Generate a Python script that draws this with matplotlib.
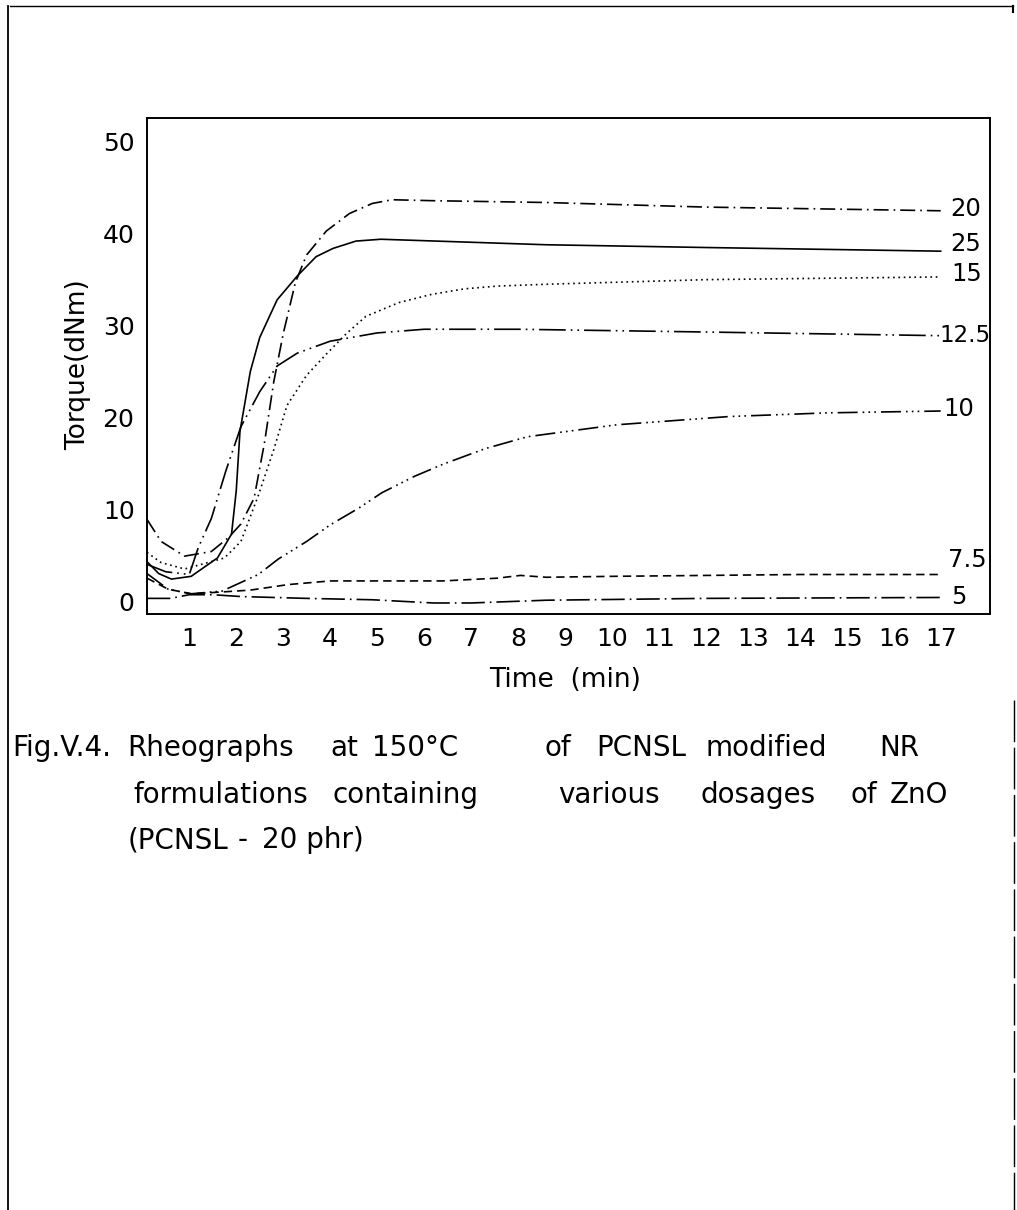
import matplotlib
matplotlib.use("Agg")
import matplotlib.pyplot as plt
from matplotlib.lines import Line2D

# ---- data ----
zno_labels = ["20", "25", "15", "12.5", "10", "7.5", "5"]

t20 = [0.1, 0.4, 0.9, 1.47, 1.83, 2.1, 2.38, 2.6, 2.8, 3.0, 3.26, 3.5, 3.92, 4.41, 4.9, 5.32, 6.16, 8.6, 12.0, 17.0]
v20 = [8.9, 6.5, 4.9, 5.4, 6.9, 8.4, 11.2, 17.2, 23.9, 29.1, 34.7, 37.7, 40.3, 42.2, 43.3, 43.7, 43.6, 43.4, 42.9, 42.5]

t25 = [0.1, 0.35, 0.62, 1.04, 1.6, 1.9, 2.0, 2.08, 2.3, 2.5, 2.87, 3.3, 3.7, 4.06, 4.55, 5.08, 8.6, 12.0, 17.0]
v25 = [4.3, 3.0, 2.4, 2.7, 4.7, 7.3, 12.0, 18.5, 25.0, 28.7, 32.8, 35.4, 37.5, 38.4, 39.2, 39.4, 38.8, 38.5, 38.1]

t15 = [0.1, 0.4, 0.9, 1.75, 2.1, 2.47, 2.8, 3.08, 3.5, 3.92, 4.34, 4.76, 5.46, 6.16, 6.86, 7.56, 8.6, 12.0, 17.0]
v15 = [5.3, 4.2, 3.5, 4.7, 6.5, 11.5, 16.5, 21.3, 24.6, 26.9, 29.1, 31.0, 32.5, 33.4, 34.0, 34.3, 34.5, 35.0, 35.3]

t125 = [0.1, 0.5, 1.0, 1.19, 1.47, 1.78, 2.1, 2.5, 2.87, 3.3, 4.0, 5.0, 6.0, 8.0, 12.0, 17.0]
v125 = [4.0, 3.2, 2.9, 5.8, 9.0, 14.2, 19.0, 22.8, 25.6, 27.0, 28.3, 29.2, 29.6, 29.6, 29.3, 28.9]

t10 = [0.1, 0.55, 1.04, 1.7, 2.0, 2.47, 2.9, 3.5, 4.0, 4.6, 5.1, 5.8, 6.4, 7.3, 8.2, 10.1, 12.5, 14.6, 17.0]
v10 = [3.0, 1.3, 0.8, 1.1, 1.8, 2.9, 4.6, 6.5, 8.3, 10.1, 11.8, 13.6, 14.9, 16.6, 17.9, 19.2, 20.1, 20.5, 20.7]

t75 = [0.1, 0.55, 1.04, 1.7, 2.3, 3.1, 4.0, 5.0, 6.4, 7.56, 8.05, 8.6, 10.0, 12.0, 14.0, 17.0]
v75 = [2.5, 1.3, 0.8, 1.0, 1.2, 1.8, 2.2, 2.2, 2.2, 2.5, 2.8, 2.6, 2.7, 2.8, 2.9, 2.9]

t5 = [0.1, 0.6, 1.0, 1.5, 2.1, 3.5, 4.9, 6.2, 7.0, 8.6, 12.0, 17.0]
v5 = [0.3, 0.3, 0.7, 0.7, 0.5, 0.3, 0.15, -0.2, -0.2, 0.1, 0.3, 0.4]

x_ticks = list(range(1, 18))
y_ticks = [0, 10, 20, 30, 40, 50]

caption_words = [
    ["Fig.V.4.", "Rheographs", "at", "150°C", "of", "PCNSL", "modified", "NR"],
    ["formulations", "containing", "various", "dosages", "of", "ZnO"],
    ["(PCNSL", "-", "20 phr)"],
]

# ---- plot ----
plt.rcParams['font.family'] = ['DejaVu Sans']
W, H = 1017, 1210
fig = plt.figure(figsize=(W/100, H/100), dpi=100)
ax = fig.add_axes([147/W, 1-614/H, (990-147)/W, (614-118)/H])

series = [
    (t20, v20, dict(ls=(0, (9, 3, 1, 3)))),
    (t25, v25, dict(ls='-')),
    (t15, v15, dict(ls=(0, (1, 2.2)))),
    (t125, v125, dict(ls=(0, (16, 3, 1, 3, 1, 3)))),
    (t10, v10, dict(ls=(0, (12, 3, 1, 2.5, 1, 2.5, 1, 3)))),
    (t75, v75, dict(ls=(0, (5, 3)))),
    (t5, v5, dict(ls=(0, (14, 3, 1, 3)))),
]
for (t, v, st) in series:
    ax.plot(t, v, color='black', lw=1.2, **st)

label_offsets = {"20": 0.2, "25": 0.8, "15": 0.3, "12.5": 0.0, "10": 0.2, "7.5": 1.6, "5": 0.1}
label_dx = {"20": 0.2, "25": 0.2, "15": 0.22, "12.5": -0.02, "10": 0.05, "7.5": 0.15, "5": 0.22}
for lab, (t, v, st) in zip(zno_labels, series):
    ax.text(t[-1] + label_dx[lab], v[-1] + label_offsets[lab], lab,
            fontsize=16.5 if lab == "12.5" else 17.5, ha='left', va='center')

ax.set_xlim(0.1, 18.05)
ax.set_ylim(-1.4, 52.6)
ax.set_xticks(x_ticks)
ax.set_yticks(y_ticks)
ax.tick_params(length=0, labelsize=18)
ax.tick_params(axis='x', pad=9)
ax.tick_params(axis='y', pad=9)
for s in ax.spines.values():
    s.set_linewidth(1.4)
ax.set_xlabel("Time  (min)", fontsize=19)
ax.xaxis.set_label_coords((565-147)/(990-147), -(680-614)/(614-118))
ax.set_ylabel("Torque(dNm)", fontsize=19)
ax.yaxis.set_label_coords(-(147-78)/(990-147), (614-365)/(614-118))
ax.xaxis.label.set_va('center')
ax.yaxis.label.set_va('center')

caption_x = [
    [12, 127, 330, 372, 545, 596, 706, 879],
    [133, 333, 558, 700, 850, 890],
    [128, 238, 262],
]
caption_y = [748, 795, 840]
for words, xs, y in zip(caption_words, caption_x, caption_y):
    for w, x in zip(words, xs):
        fig.text(x/W, 1-y/H, w, fontsize=20, va='center', ha='left')

# scanned page frame
tf = fig.transFigure
fig.add_artist(Line2D([10/W, 1013/W], [1-6/H, 1-6/H], color='black', lw=1.0, transform=tf))
fig.add_artist(Line2D([1013/W, 1013/W], [1-6/H, 1-12/H], color='black', lw=1.5, transform=tf))
fig.add_artist(Line2D([8/W, 8/W], [1-6/H, 0], color='black', lw=1.3, transform=tf))
fig.add_artist(Line2D([1014/W, 1014/W], [1-700/H, 0], color='black', lw=1.0, ls=(0, (30, 4)), transform=tf))

fig.savefig("out.png", dpi=100)
